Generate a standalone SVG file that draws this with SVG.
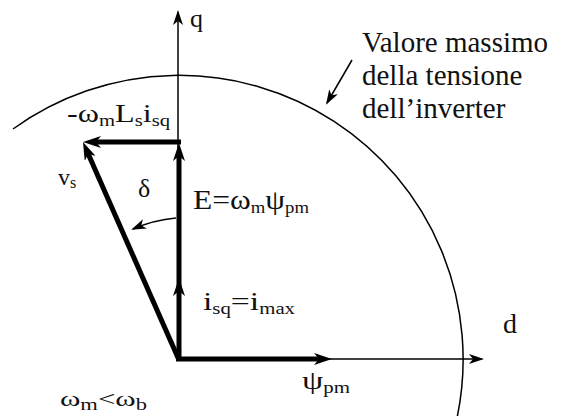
<svg xmlns="http://www.w3.org/2000/svg" width="569" height="416" viewBox="0 0 569 416">
<style>
text{font-family:'Liberation Serif','Times New Roman','DejaVu Serif',serif;fill:#111}
.sub{font-size:16px}
.thin{stroke:#000;stroke-width:1.5;fill:none}
.thick{stroke:#000;stroke-width:5;fill:none}
</style>
<defs>
<marker id="big" viewBox="0 0 18 12" refX="6" refY="6" markerWidth="18" markerHeight="12" markerUnits="userSpaceOnUse" orient="auto"><path d="M0,0 L18,6 L0,12 L5,6 z" fill="#000"/></marker>
<marker id="small" viewBox="0 0 15 10" refX="13" refY="5" markerWidth="15" markerHeight="10" markerUnits="userSpaceOnUse" orient="auto"><path d="M0,0 L15,5 L0,10 L4,5 z" fill="#000"/></marker>
</defs>
<rect width="569" height="416" fill="#fff"/>
<g id="connectors">
<path id="arc-limit" class="thin" d="M13,129 A284,284 0 0 1 457,418"/>
<line id="axis-q" class="thin" x1="178" y1="360" x2="178" y2="12" marker-end="url(#small)"/>
<line id="axis-d" class="thin" x1="178" y1="359" x2="482" y2="359" marker-end="url(#small)"/>
<line id="psi" class="thick" x1="176" y1="359" x2="320" y2="359" marker-end="url(#big)"/>
<line id="isq" class="thick" x1="179" y1="361" x2="179" y2="290" marker-end="url(#big)"/>
<line id="e" class="thick" x1="179" y1="292" x2="179" y2="155" marker-end="url(#big)"/>
<line id="ls" class="thick" x1="181" y1="142" x2="95" y2="142" marker-end="url(#big)"/>
<line id="vs" class="thick" x1="179" y1="360" x2="87.8" y2="153" marker-end="url(#big)"/>
<path id="delta-arc" class="thin" d="M176,218 A140,140 0 0 0 133,229" marker-end="url(#small)"/>
<line id="note-arrow" class="thin" x1="352" y1="60" x2="327" y2="103" marker-end="url(#small)"/>
</g>
<g id="label-q"><text x="190" y="27" font-size="26">q</text></g>
<g id="label-d"><text x="503" y="333" font-size="28">d</text></g>
<g id="label-note">
<text x="362" y="52" font-size="29">Valore massimo</text>
<text x="362" y="85" font-size="29">della tensione</text>
<text x="362" y="118" font-size="29">dell’inverter</text>
</g>
<g id="label-ls"><text x="67" y="122" font-size="25" textLength="103" lengthAdjust="spacingAndGlyphs">-ω<tspan class="sub" dy="4">m</tspan><tspan dy="-4">L</tspan><tspan class="sub" dy="4">s</tspan><tspan dy="-4">i</tspan><tspan class="sub" dy="4">sq</tspan></text></g>
<g id="label-vs"><text x="58" y="185" font-size="24">v<tspan class="sub" dy="3">s</tspan></text></g>
<g id="label-delta"><text x="138" y="197" font-size="26">δ</text></g>
<g id="label-e"><text x="193" y="209" font-size="27" textLength="116" lengthAdjust="spacingAndGlyphs">E=ω<tspan class="sub" dy="4">m</tspan><tspan dy="-4">ψ</tspan><tspan class="sub" dy="4">pm</tspan></text></g>
<g id="label-isq"><text x="203" y="310" font-size="26" textLength="92" lengthAdjust="spacingAndGlyphs">i<tspan class="sub" dy="4">sq</tspan><tspan dy="-4">=i</tspan><tspan class="sub" dy="4">max</tspan></text></g>
<g id="label-psi"><text x="302" y="389" font-size="26" textLength="48" lengthAdjust="spacingAndGlyphs">ψ<tspan class="sub" dy="4">pm</tspan></text></g>
<g id="label-w"><text x="60" y="406" font-size="22" textLength="87" lengthAdjust="spacingAndGlyphs">ω<tspan class="sub" dy="4">m</tspan><tspan dy="-4">&lt;ω</tspan><tspan class="sub" dy="4">b</tspan></text></g>
</svg>
